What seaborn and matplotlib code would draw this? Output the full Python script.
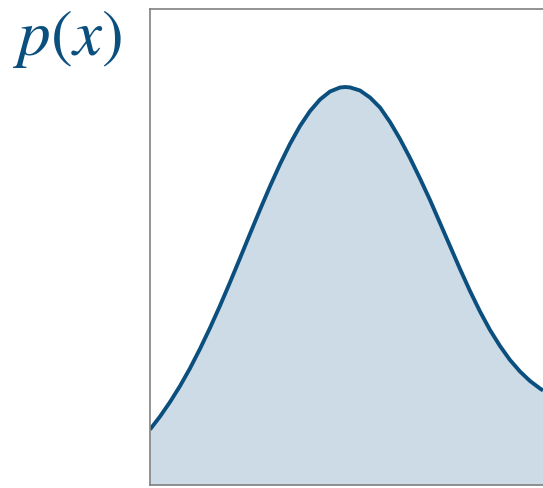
import matplotlib
matplotlib.use("Agg")
import matplotlib.pyplot as plt
import seaborn as sns
import pandas as pd

# Density curve sampled along x
x_vals = [0.0, 0.1, 0.2, 0.3, 0.4, 0.5, 0.6, 0.7, 0.8, 0.9,
          1.0, 1.1, 1.2, 1.3, 1.4, 1.5, 1.6, 1.7, 1.8, 1.9, 1.95,
          2.0, 2.1, 2.2, 2.3, 2.4, 2.5, 2.6, 2.7, 2.8, 2.9,
          3.0, 3.1, 3.2, 3.3, 3.4, 3.5, 3.6, 3.7, 3.8, 3.9, 3.93]
p_vals = [0.0555, 0.0685, 0.0830, 0.0990, 0.1167, 0.1362, 0.1571, 0.1793, 0.2027, 0.2268,
          0.2512, 0.2753, 0.2987, 0.3208, 0.3411, 0.3590, 0.3739, 0.3855, 0.3935, 0.3975, 0.3980,
          0.3976, 0.3945, 0.3875, 0.3775, 0.3630, 0.3460, 0.3270, 0.3065, 0.2850, 0.2620,
          0.2390, 0.2160, 0.1940, 0.1735, 0.1550, 0.1390, 0.1250, 0.1135, 0.1040, 0.0965, 0.0945]
y_label = "$p(x)$"

line_color = "#0b4f7f"
fill_color = "#cddbe6"

sns.set_style("white")
plt.rcParams["mathtext.fontset"] = "stix"

df = pd.DataFrame({"x": x_vals, "p": p_vals})

fig = plt.figure(figsize=(5.43, 4.89), dpi=100)
ax = fig.add_axes([150 / 543, 3 / 489, 397 / 543, 476 / 489])

ax.fill_between(df["x"], 0, df["p"], color=fill_color, linewidth=0)
line = sns.lineplot(data=df, x="x", y="p", ax=ax, color=line_color, linewidth=2.8)
for ln in ax.lines:
    ln.set_solid_joinstyle("round")
    ln.set_solid_capstyle("butt")

ax.set_xlim(0, 3.97)
ax.set_ylim(0, 0.476)
ax.set_xticks([])
ax.set_yticks([])
ax.set_xlabel("")
ax.set_ylabel("")
for side in ["left", "bottom", "top", "right"]:
    ax.spines[side].set_color("#808080")
    ax.spines[side].set_linewidth(1.2)

fig.text(68 / 543, 1 - 38 / 489, y_label, color=line_color, fontsize=47,
         ha="center", va="center")

fig.savefig("out.png", dpi=100)
